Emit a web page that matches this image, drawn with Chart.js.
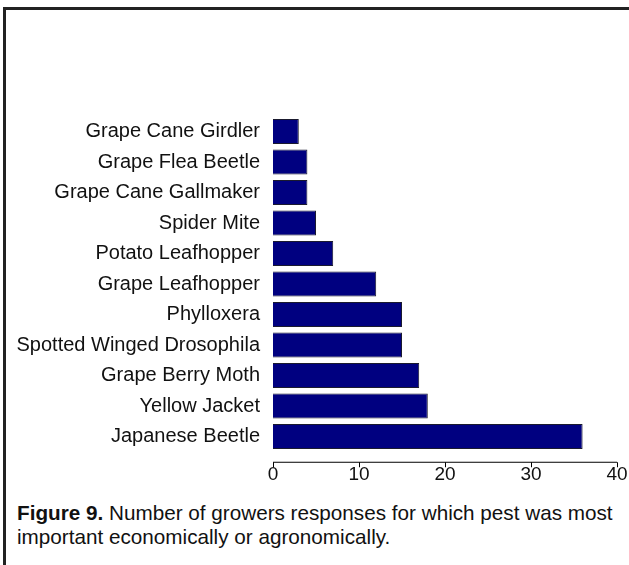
<!DOCTYPE html>
<html>
<head>
<meta charset="utf-8">
<script src="https://cdn.jsdelivr.net/npm/chart.js@4.4.0/dist/chart.umd.min.js"></script>
<style>
  html, body { margin: 0; padding: 0; background: #fff; }
  body { width: 629px; height: 565px; position: relative; overflow: hidden; font-family: "Liberation Sans", Arial, sans-serif; }
  .frame { position: absolute; left: 3px; top: 7px; width: 700px; height: 600px; border-top: 3px solid #222; border-left: 3px solid #222; box-sizing: border-box; }
  #chart { position: absolute; left: 0; top: 0; }
  .caption { position: absolute; left: 17px; top: 501px; font-size: 20.7px; line-height: 24px; color: #111; white-space: nowrap; }
</style>
</head>
<body>
<div class="frame"></div>
<canvas id="chart" width="629" height="490"></canvas>
<div class="caption"><b>Figure 9.</b> Number of growers responses for which pest was most<br>important economically or agronomically.</div>
<script>
// pests, top to bottom as in the figure
const pests = [
    'Grape Cane Girdler',
    'Grape Flea Beetle',
    'Grape Cane Gallmaker',
    'Spider Mite',
    'Potato Leafhopper',
    'Grape Leafhopper',
    'Phylloxera',
    'Spotted Winged Drosophila',
    'Grape Berry Moth',
    'Yellow Jacket',
    'Japanese Beetle',
];
const responses = [3, 4, 4, 5, 7, 12, 15, 15, 17, 18, 36];
const xTicks = [0, 10, 20, 30, 40];

// x axis line sits a bit below the bars, so draw it ourselves
const detachedAxis = {
    id: 'detachedAxis',
    afterDraw(chart) {
        const ctx = chart.ctx;
        const x = chart.scales.x;
        const y0 = chart.chartArea.bottom + 10.5;
        ctx.save();
        ctx.strokeStyle = '#000';
        ctx.lineWidth = 1;
        ctx.beginPath();
        ctx.moveTo(x.getPixelForValue(0), y0);
        ctx.lineTo(x.getPixelForValue(40), y0);
        xTicks.forEach(t => {
            const px = Math.round(x.getPixelForValue(t)) + 0.5;
            ctx.moveTo(px, y0);
            ctx.lineTo(px, y0 + 5);
        });
        ctx.stroke();
        ctx.restore();
    }
};

new Chart(document.getElementById('chart').getContext('2d'), {
    type: 'bar',
    data: {
        labels: pests,
        datasets: [{
            data: responses,
            backgroundColor: '#000080',
            borderColor: '#1a1a2e',
            borderWidth: 1,
            barPercentage: 0.82,
            categoryPercentage: 1,
        }],
    },
    options: {
        indexAxis: 'y',
        responsive: false,
        animation: false,
        layout: { padding: { top: 116.25, right: 0, bottom: 0, left: 0 } },
        plugins: { legend: { display: false }, tooltip: { enabled: false } },
        scales: {
            x: {
                min: 0,
                max: 40,
                afterBuildTicks: scale => { scale.ticks = xTicks.map(v => ({ value: v })); },
                afterFit: scale => { scale.height = 490 - 451.75; scale.paddingRight = 12; },
                grid: { display: false, drawTicks: false },
                border: { display: false },
                ticks: {
                    padding: 12,
                    color: '#111',
                    maxRotation: 0,
                    font: { family: 'Liberation Sans', size: 19 },
                },
            },
            y: {
                afterFit: scale => { scale.width = 273; },
                grid: { display: false, drawTicks: false },
                border: { display: false },
                ticks: {
                    padding: 13,
                    color: '#111',
                    font: { family: 'Liberation Sans', size: 20 },
                },
            },
        },
    },
    plugins: [detachedAxis],
});
</script>
</body>
</html>
